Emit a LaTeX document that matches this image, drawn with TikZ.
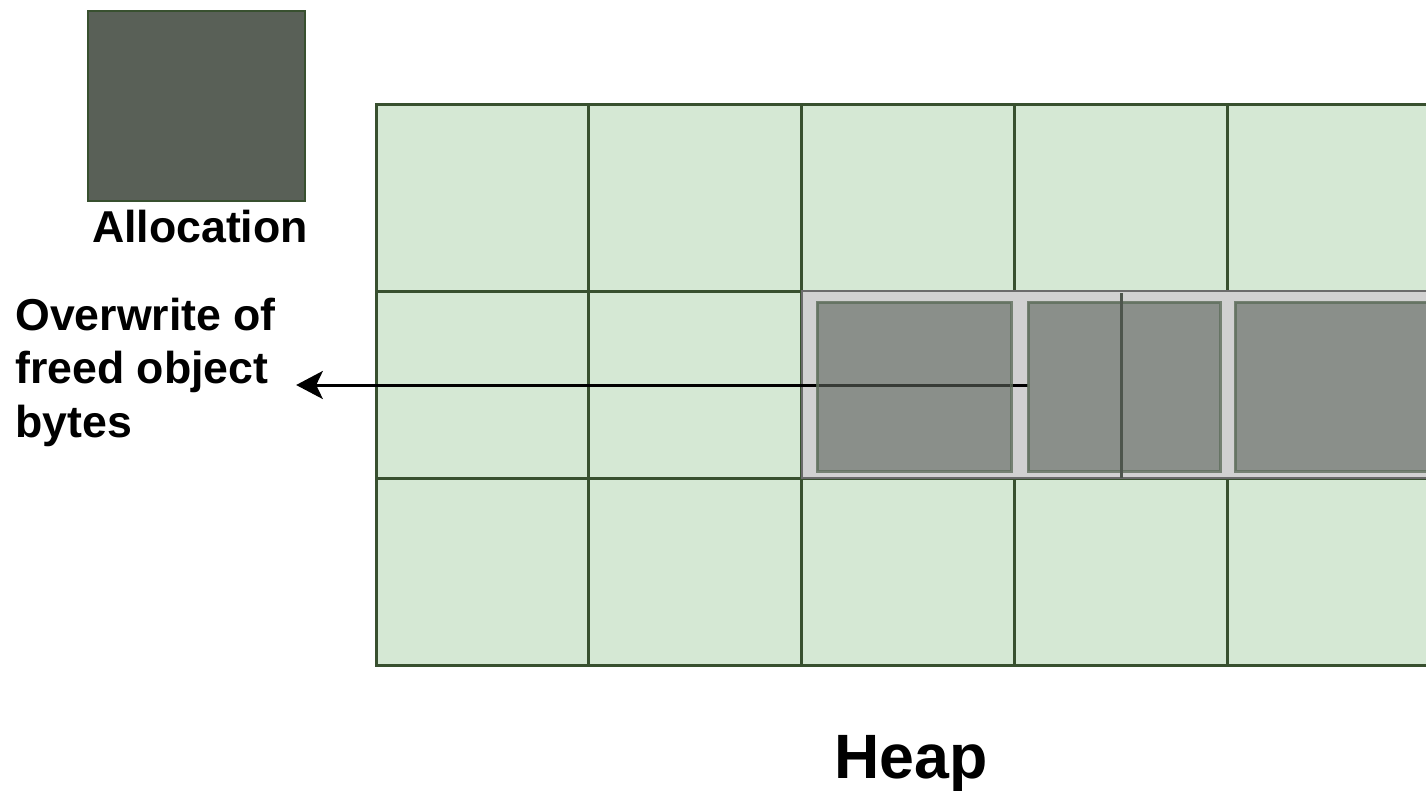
\documentclass[tikz,border=0pt]{standalone}
\usepackage{fontspec}
\setmainfont{Liberation Sans}
\usetikzlibrary{arrows.meta}
\definecolor{cellfill}{HTML}{D5E8D4}
\definecolor{cellline}{HTML}{38502F}
\definecolor{allocfill}{HTML}{596057}
\definecolor{bandfill}{HTML}{D1D1D1}
\definecolor{bandline}{HTML}{6B6B6B}
\definecolor{freedfill}{HTML}{5C635B}
\definecolor{freedline}{HTML}{5E6E5B}
\definecolor{splitline}{HTML}{4E564D}
\tikzset{
  cell/.style={draw=cellline, fill=cellfill, line width=2.25pt, inner sep=0pt,
    minimum width=159.56pt, minimum height=140.25pt},
  alloc/.style={draw=cellline, fill=allocfill, line width=1.5pt},
  band/.style={draw=bandline, fill=bandfill, line width=1.5pt},
  freed/.style={draw=freedline, fill=freedfill, fill opacity=0.6, draw opacity=0.8, line width=2.25pt},
  label/.style={font=\bfseries, inner sep=0pt},
  pointer/.style={draw=black, line width=2.25pt, -{Stealth[length=20pt,width=21pt,inset=5pt]}},
}
\begin{document}
\begin{tikzpicture}[x=0.75pt, y=-0.75pt]
  \useasboundingbox (0,0) rectangle (1426,790);
  \clip (0,0) rectangle (1426,790);

  % heap grid: 3 rows x 5 columns, the last column running off the right edge
  \foreach \r in {0,1,2} {
    \foreach \c in {0,...,4} {
      \node[cell] (cell-\r-\c) at ({376+212.75*(\c+0.5)}, {104+187*(\r+0.5)}) {};
    }
  }

  % legend block
  \draw[alloc] (88,11) rectangle (305,201);
  \node[label, font=\fontsize{33.5pt}{38pt}\selectfont\bfseries, anchor=base] (alloclabel) at (200,242) {Allocation};

  % freed region across the middle row
  \draw[band] (802,291) rectangle (1445,478);

  % pointer from the freed object out to its caption
  \node[label, font=\fontsize{33.5pt}{40pt}\selectfont\bfseries, align=left, anchor=north west] (ovw) at (15,298)
    {Overwrite of\\freed object\\bytes};
  \coordinate (src) at (1028,385);
  \draw[pointer] (src) -- ([xshift=15] ovw.east |- src);

  % freed objects lying over the pointer
  \draw[freed] (817,302) rectangle (1011,471);
  \draw[freed] (1028,302) rectangle (1220,471);
  \draw[freed] (1235,302) rectangle (1445,471);
  \draw[draw=splitline, line width=2.25pt] (1121,293) -- (1121,478);

  \node[label, font=\fontsize{47pt}{54pt}\selectfont\bfseries, anchor=base] (heap) at (911,778) {Heap};
\end{tikzpicture}
\end{document}
